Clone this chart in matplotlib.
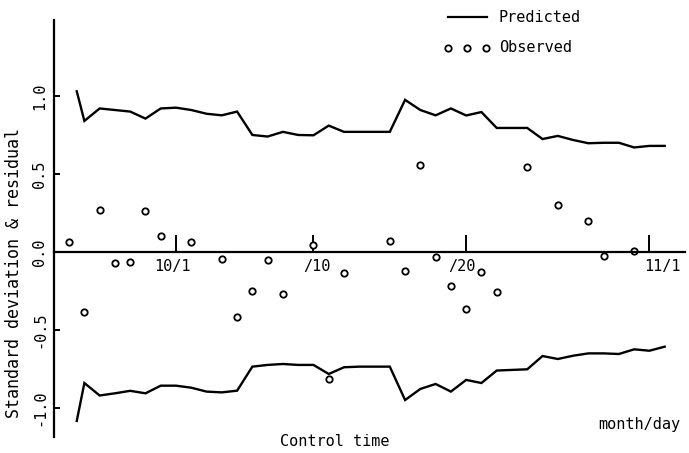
import matplotlib
matplotlib.use("Agg")
import matplotlib.pyplot as plt
from matplotlib.lines import Line2D
import matplotlib.transforms as mtransforms

# ---- data (days relative to Oct 1) ----
pred_days = [-6.5, -6, -5, -4, -3, -2, -1, 0, 1, 2, 3, 4, 5, 6, 7, 8, 9, 10, 11, 12,
             13, 14, 15, 16, 17, 18, 19, 20, 21, 22, 23, 24, 25, 26, 27, 28, 29, 30, 31, 32]
pred_upper = [1.03, 0.84, 0.92, 0.91, 0.90, 0.855, 0.92, 0.925, 0.91, 0.886, 0.876, 0.90,
              0.75, 0.74, 0.77, 0.75, 0.748, 0.81, 0.77, 0.77, 0.77, 0.77, 0.975, 0.91,
              0.876, 0.92, 0.875, 0.897, 0.795, 0.795, 0.795, 0.724, 0.744, 0.718, 0.697,
              0.70, 0.70, 0.67, 0.68, 0.68]
pred_lower = [-1.083, -0.84, -0.92, -0.906, -0.89, -0.906, -0.857, -0.857, -0.87, -0.895,
              -0.90, -0.889, -0.735, -0.724, -0.718, -0.724, -0.724, -0.782, -0.739, -0.735,
              -0.735, -0.735, -0.949, -0.878, -0.846, -0.895, -0.82, -0.84, -0.76, -0.756,
              -0.752, -0.667, -0.686, -0.665, -0.65, -0.65, -0.654, -0.624, -0.633, -0.607]

obs_days = [-7, -6, -5, -4, -3, -2, -1, 1, 3, 4, 5, 6, 7, 9, 10, 11, 14, 15, 16, 17,
            18, 19, 20, 21, 23, 25, 27, 28, 30]
obs_vals = [0.064, -0.385, 0.27, -0.07, -0.064, 0.26, 0.10, 0.064, -0.045, -0.417,
            -0.25, -0.05, -0.27, 0.045, -0.815, -0.135, 0.07, -0.12, 0.56, -0.03,
            -0.22, -0.365, -0.13, -0.256, 0.545, 0.30, 0.20, -0.026, 0.005]

xtick_pos = [0, 9, 19, 31]
xtick_labels = ["10/1", "/10", "/20", "11/1"]
ytick_pos = [-1.0, -0.5, 0.0, 0.5, 1.0]
ytick_labels = ["-1.0", "-0.5", "0.0", "0.5", "1.0"]

FONT = "DejaVu Sans Mono"
plt.rcParams["font.family"] = [FONT, "DejaVu Sans"]

W, H = 689, 453
fig = plt.figure(figsize=(W / 100, H / 100), dpi=100)

def px(x, y):
    return (x / W, 1 - y / H)

ax = fig.add_axes([54 / W, 16 / H, 631 / W, 417 / H])
ax.set_xlim(-7.99, 33.33)
ax.set_ylim(-1.186, 1.487)

ax.plot(pred_days, pred_upper, color="black", lw=1.7, solid_joinstyle="miter")
ax.plot(pred_days, pred_lower, color="black", lw=1.7, solid_joinstyle="miter")
ax.plot(obs_days, obs_vals, linestyle="none", marker="o", ms=4.6,
        mfc="white", mec="black", mew=1.3)

for s in ("top", "right"):
    ax.spines[s].set_visible(False)
ax.spines["bottom"].set_position(("data", 0))
ax.spines["left"].set_linewidth(1.6)
ax.spines["bottom"].set_linewidth(1.6)

ax.set_xticks(xtick_pos)
ax.set_xticklabels(xtick_labels, fontsize=11)
ax.tick_params(axis="x", direction="in", length=12, width=1.4, pad=5)
ax.set_yticks(ytick_pos)
ax.set_yticklabels(ytick_labels, fontsize=11, rotation=90, va="center")
ax.tick_params(axis="y", direction="in", length=4, width=1.4, pad=5)

# small label offsets as in the reference
offs = [-4, 3, -4, 13]
for lab, o in zip(ax.get_xticklabels(), offs):
    lab.set_transform(lab.get_transform() +
                      mtransforms.ScaledTranslation(o / 100, 0, fig.dpi_scale_trans))

fig.text(*px(14, 273), "Standard deviation & residual", rotation=90,
         ha="center", va="center", fontsize=12)
fig.text(*px(335, 442), "Control time", ha="center", va="center", fontsize=11)
fig.text(*px(639, 424), "month/day", ha="center", va="center", fontsize=11)

# legend drawn in figure coordinates
x0, y0 = px(448, 17)
x1, _ = px(487, 17)
fig.add_artist(Line2D([x0, x1], [y0, y0], transform=fig.transFigure,
                      color="black", lw=1.6))
fig.text(*px(498, 17), "Predicted", ha="left", va="center", fontsize=11)
mx = [px(448, 48)[0], px(467, 48)[0], px(486, 48)[0]]
my = [px(448, 48)[1]] * 3
fig.add_artist(Line2D(mx, my, transform=fig.transFigure, linestyle="none",
                      marker="o", ms=4.6, mfc="white", mec="black", mew=1.3))
fig.text(*px(499, 48), "Observed", ha="left", va="center", fontsize=11)

fig.savefig("out.png", dpi=100)
